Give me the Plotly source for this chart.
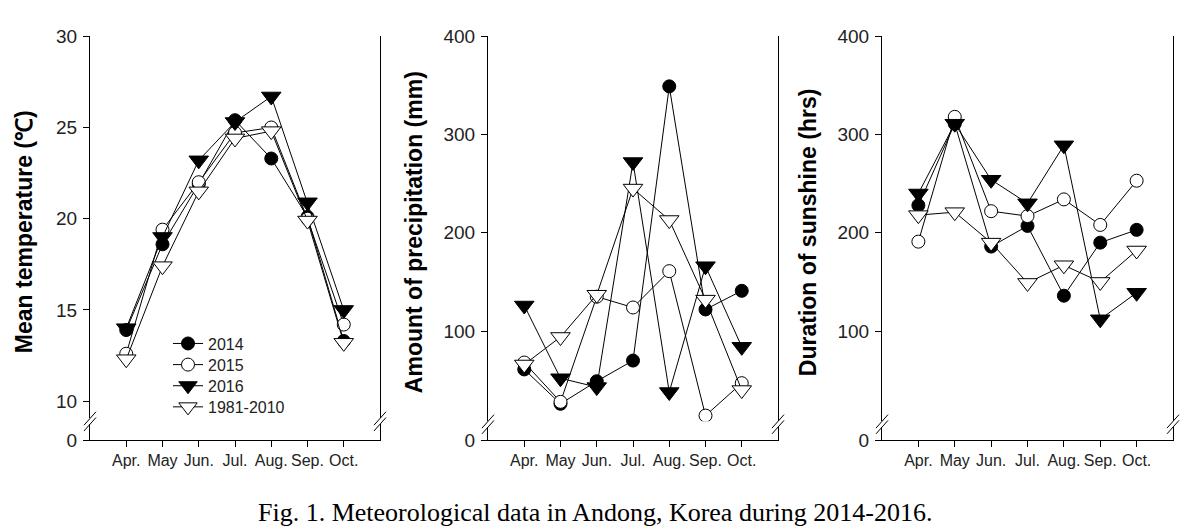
import plotly.graph_objects as go

# ---------------- data ----------------
months = ["Apr.", "May", "Jun.", "Jul.", "Aug.", "Sep.", "Oct."]
series_names = ["2014", "2015", "2016", "1981-2010"]

temp_2014 = [13.9, 18.6, 21.9, 25.4, 23.3, 20.1, 13.3]
temp_2015 = [12.6, 19.4, 22.0, 24.7, 25.0, 20.0, 14.2]
temp_2016 = [14.0, 19.0, 23.2, 25.3, 26.7, 20.9, 15.0]
temp_normal = [12.3, 17.4, 21.5, 24.4, 24.8, 19.9, 13.2]

prec_2014 = [61, 26, 49, 70, 349, 122, 141]
prec_2015 = [68, 28, 135, 124, 161, 14, 47]
prec_2016 = [126, 52, 43, 272, 38, 166, 84]
prec_normal = [66, 94, 137, 245, 213, 132, 40]

sun_2014 = [228, 311, 186, 207, 136, 190, 203]
sun_2015 = [191, 318, 222, 217, 234, 208, 253]
sun_2016 = [240, 311, 254, 230, 289, 112, 139]
sun_normal = [218, 221, 190, 149, 167, 150, 182]

panels = [
    dict(values=[temp_2014, temp_2015, temp_2016, temp_normal],
         title="Mean temperature (℃)", top=30, ticks=[10, 15, 20, 25, 30]),
    dict(values=[prec_2014, prec_2015, prec_2016, prec_normal],
         title="Amount of precipitation (mm)", top=400, ticks=[100, 200, 300, 400]),
    dict(values=[sun_2014, sun_2015, sun_2016, sun_normal],
         title="Duration of sunshine (hrs)", top=400, ticks=[100, 200, 300, 400]),
]

# ---------------- geometry (pixels) ----------------
W, H = 1191, 530
px_left = [82, 480, 874]
px_right = [372, 770, 1165]
px_top = 19
px_bottom = 439.5
gap_top = [417, 420, 420]      # upper segment ends
gap_bot = [423, 426, 426]      # lower segment starts
px_per_unit = [19.0, 307 / 300, 307 / 300]
title_x = [16, 406, 800]
legend_y = [339, 361, 383, 405]


def fx(p):
    return p / W


def fy(p):
    return (H - p) / H


styles = [
    dict(symbol="circle", color="black", size=13),
    dict(symbol="circle", color="white", size=13),
    dict(symbol="triangle-down", color="black", size=17),
    dict(symbol="triangle-down", color="white", size=17),
]

FONT = "Arial, Liberation Sans, sans-serif"
XTICKFONT = dict(family=FONT, size=16, color="#222")
YTICKFONT = dict(family=FONT, size=19, color="#222")
fig = go.Figure()
layout = dict(
    width=W, height=H,
    margin=dict(l=0, r=0, t=0, b=0),
    paper_bgcolor="white", plot_bgcolor="white",
    font=dict(family=FONT, color="#222", size=16),
    showlegend=True,
)
shapes = []
annotations = []

for i, pnl in enumerate(panels):
    xid = "x" if i == 0 else f"x{i + 1}"
    yu = 2 * i + 1
    yl = 2 * i + 2
    yu_id = "y" if yu == 1 else f"y{yu}"
    yl_id = f"y{yl}"
    xkey = "xaxis" if i == 0 else f"xaxis{i + 1}"
    yukey = "yaxis" if yu == 1 else f"yaxis{yu}"
    ylkey = f"yaxis{yl}"

    low_val = pnl["top"] - (gap_top[i] - px_top) / px_per_unit[i]

    common = dict(showline=True, linecolor="black", linewidth=1.2,
                  ticks="outside", ticklen=6, tickcolor="black", tickwidth=1.2,
                  showgrid=False, zeroline=False)
    layout[xkey] = dict(
        domain=[fx(px_left[i]), fx(px_right[i])],
        anchor=yl_id, type="category", categoryorder="array", categoryarray=months,
        range=[-1, 7], tickfont=XTICKFONT, **common,
    )
    layout[yukey] = dict(
        domain=[fy(gap_top[i]), fy(px_top)], anchor=xid,
        range=[low_val, pnl["top"]], tickvals=pnl["ticks"], mirror=True,
        tickfont=YTICKFONT, ticklabelstandoff=2, **common,
    )
    layout[ylkey] = dict(
        domain=[fy(px_bottom), fy(gap_bot[i])], anchor=xid,
        range=[0, 1], tickvals=[0], mirror=True,
        tickfont=YTICKFONT, ticklabelstandoff=2, **common,
    )

    # placeholder trace so the lower axis segment is drawn
    fig.add_trace(go.Scatter(x=[None], y=[None], xaxis=xid, yaxis=yl_id,
                             showlegend=False, hoverinfo="skip"))

    for k, (name, vals, st) in enumerate(zip(series_names, pnl["values"], styles)):
        fig.add_trace(go.Scatter(
            x=months, y=vals, name=name, mode="lines+markers",
            xaxis=xid, yaxis=yu_id, showlegend=(i == 0),
            legend="legend" if k == 0 else f"legend{k + 1}",
            line=dict(color="black", width=1),
            marker=dict(symbol=st["symbol"], size=st["size"], color=st["color"],
                        line=dict(color="black", width=1)),
        ))

    # axis-break marks (left and right)
    for cx in (px_left[i], px_right[i]):
        for yy in (gap_top[i], gap_bot[i]):
            shapes.append(dict(type="line", xref="paper", yref="paper",
                               x0=fx(cx - 6), y0=fy(yy + 7), x1=fx(cx + 6), y1=fy(yy - 7),
                               line=dict(color="black", width=1)))

    annotations.append(dict(
        text=pnl["title"], x=fx(title_x[i]), y=fy(223), xref="paper", yref="paper",
        textangle=-90, showarrow=False, xanchor="center", yanchor="middle",
        font=dict(family=FONT, size=23, color="black", weight="bold"),
    ))

annotations.append(dict(
    text="Fig. 1. Meteorological data in Andong, Korea during 2014-2016.",
    x=fx(587), y=fy(515), xref="paper", yref="paper", showarrow=False,
    xanchor="center", yanchor="middle",
    font=dict(family="Times New Roman, Liberation Serif, serif", size=26, color="black"),
))

layout["shapes"] = shapes
layout["annotations"] = annotations
for k in range(4):
    key = "legend" if k == 0 else f"legend{k + 1}"
    layout[key] = dict(
        x=fx(160), y=fy(legend_y[k]), xanchor="left", yanchor="middle",
        bgcolor="rgba(0,0,0,0)", borderwidth=0,
        font=dict(family=FONT, size=16, color="#222"),
        itemclick=False, itemdoubleclick=False,
    )
fig.update_layout(**layout)
fig.write_html("out.html")
